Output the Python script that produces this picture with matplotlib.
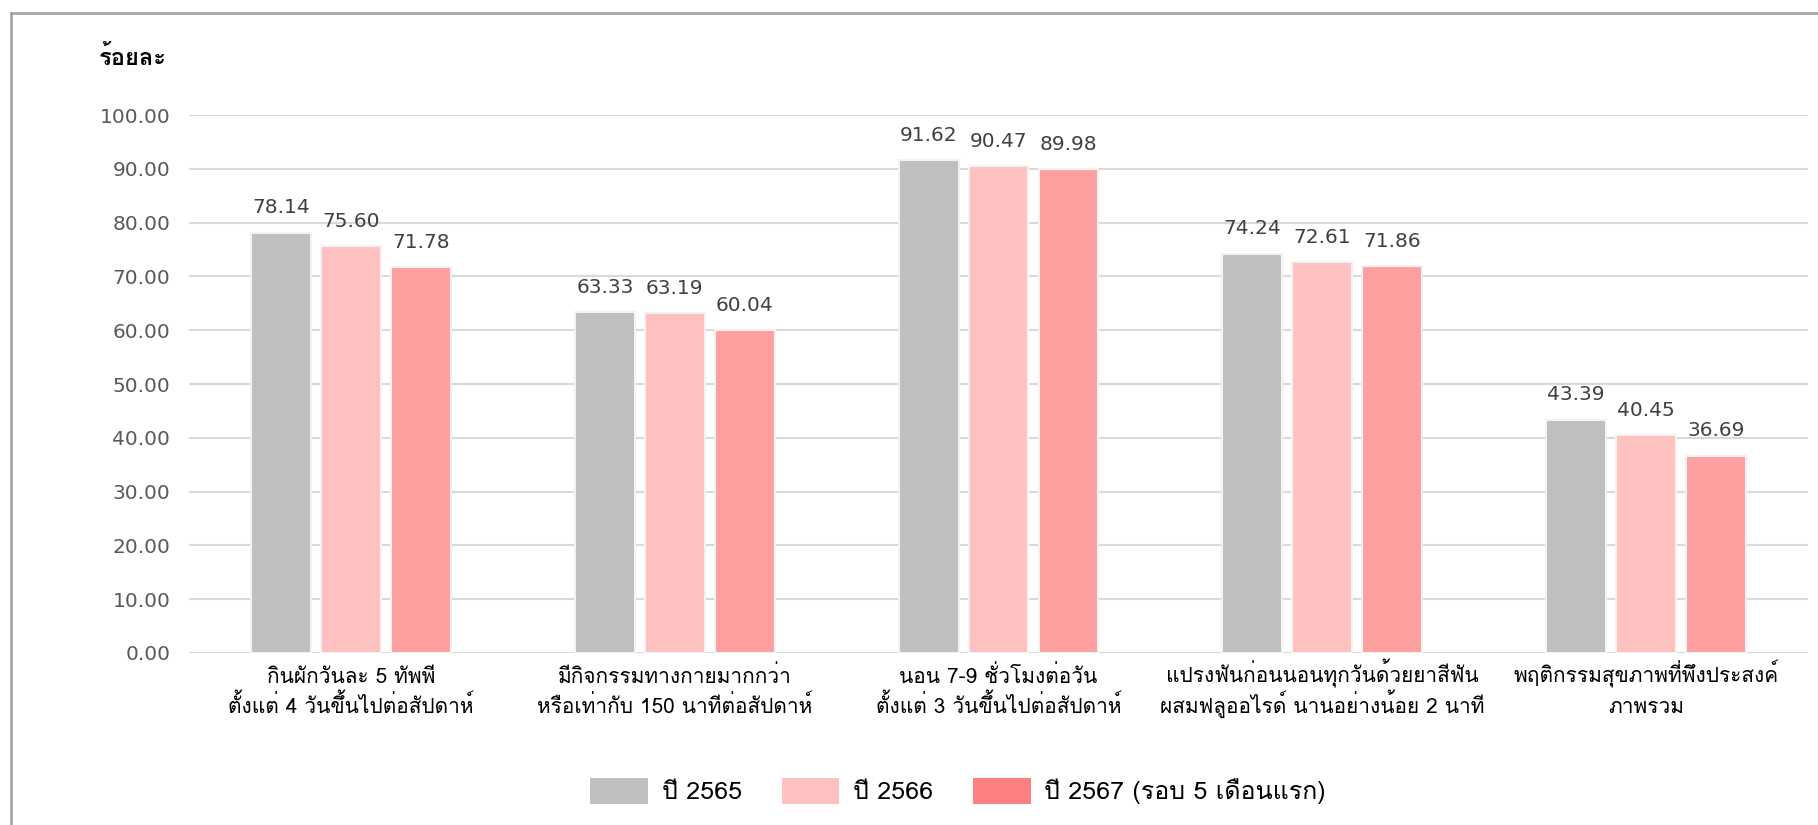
import matplotlib
matplotlib.use("Agg")
import matplotlib.pyplot as plt
import numpy as np
from matplotlib import font_manager
from matplotlib.patches import Patch
from matplotlib.lines import Line2D

# data
categories = [
    ("กินผักวันละ 5 ทัพพี", "ตั้งแต่ 4 วันขึ้นไปต่อสัปดาห์"),
    ("มีกิจกรรมทางกายมากกว่า", "หรือเท่ากับ 150 นาทีต่อสัปดาห์"),
    ("นอน 7-9 ชั่วโมงต่อวัน", "ตั้งแต่ 3 วันขึ้นไปต่อสัปดาห์"),
    ("แปรงฟันก่อนนอนทุกวันด้วยยาสีฟัน", "ผสมฟลูออไรด์ นานอย่างน้อย 2 นาที"),
    ("พฤติกรรมสุขภาพที่พึงประสงค์", "ภาพรวม"),
]
series_names = ["ปี 2565", "ปี 2566", "ปี 2567 (รอบ 5 เดือนแรก)"]
y2565 = [78.14, 63.33, 91.62, 74.24, 43.39]
y2566 = [75.60, 63.19, 90.47, 72.61, 40.45]
y2567 = [71.78, 60.04, 89.98, 71.86, 36.69]
yticks = np.arange(0, 101, 10)

bar_colors = ["#BFBFBF", "#FFC0C0", "#FFA0A0"]
legend_colors = ["#BFBFBF", "#FFC0C0", "#FF8080"]

# Thai font (Loma is close to Tahoma and places tone marks high by default)
installed = {f.name for f in font_manager.fontManager.ttflist}
thai_font = "DejaVu Sans"
for name in ["Loma", "Noto Sans Thai Looped", "Sarabun"]:
    if name in installed:
        thai_font = name
        break
plt.rcParams["font.family"] = [thai_font, "DejaVu Sans"]

fig = plt.figure(figsize=(18.18, 8.25), dpi=100)
ax = fig.add_axes([0.104, 0.2085, 0.8905, 0.652])

x = np.arange(len(categories))
step = 0.216
width = 0.185
for i, vals in enumerate([y2565, y2566, y2567]):
    pos = x + (i - 1) * step
    bars = ax.bar(pos, vals, width, color=bar_colors[i], edgecolor="#F2F2F2",
                  linewidth=1.5, zorder=3)
    for b, v in zip(bars, vals):
        ax.annotate(f"{v:.2f}", (b.get_x() + b.get_width() / 2, v),
                    xytext=(0, 11), textcoords="offset points",
                    ha="center", va="bottom", fontsize=14.5,
                    color="#404040", family="DejaVu Sans")

ax.set_ylim(0, 100)
ax.set_xlim(-0.5, len(categories) - 0.5)
ax.set_yticks(yticks)
ax.set_yticklabels([f"{t:.2f}" for t in yticks], family="DejaVu Sans",
                   fontsize=14.5, color="#595959")
ax.set_xticks(x)
ax.set_xticklabels([])
ax.tick_params(axis="both", length=0)
ax.tick_params(axis="y", pad=13.5)
ax.grid(axis="y", color="#D9D9D9", linewidth=1.5, zorder=0)
for s in ax.spines.values():
    s.set_visible(False)

# two-line category labels, each line placed on its own baseline
trans = ax.get_xaxis_transform()
for xi, (line1, line2) in zip(x, categories):
    ax.annotate(line1, (xi, 0), xycoords=trans, xytext=(0, -21.5),
                textcoords="offset points", ha="center", va="baseline",
                fontsize=15, color="black")
    ax.annotate(line2, (xi, 0), xycoords=trans, xytext=(0, -43),
                textcoords="offset points", ha="center", va="baseline",
                fontsize=15, color="black")

fig.text(0.0545, 0.93, "ร้อยละ", fontsize=17, fontweight="bold", va="center")

handles = [Patch(facecolor=c, edgecolor="none") for c in legend_colors]
fig.legend(handles, series_names, loc="center", bbox_to_anchor=(0.527, 0.041),
           ncol=3, frameon=False, fontsize=18, handlelength=2.3,
           handleheight=1.25, handletextpad=0.55, columnspacing=1.6)

# outer frame (left and top edges)
fig.add_artist(Line2D([0.006, 0.006], [0.0, 0.984], color="#A6A6A6", linewidth=2))
fig.add_artist(Line2D([0.006, 1.0], [0.984, 0.984], color="#A6A6A6", linewidth=2))

fig.savefig("out.png", dpi=100)
